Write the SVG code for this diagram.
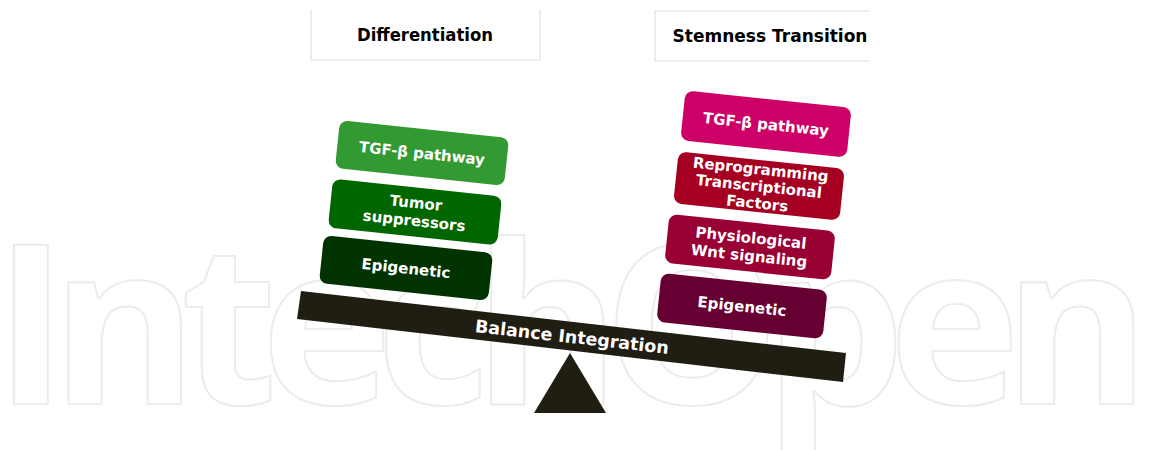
<svg xmlns="http://www.w3.org/2000/svg" width="1150" height="450" viewBox="0 0 1150 450">
<style>
.wm{font-family:"Open Sans","Noto Sans",sans-serif;font-weight:700;font-size:223px;fill:none;stroke:#ececec;stroke-width:2}
.hdr{fill:none;stroke:#e0e0e0;stroke-width:1.2}
.ht{font-family:"DejaVu Sans","Liberation Sans",sans-serif;font-weight:bold;font-size:17px;fill:#000;text-anchor:middle}
.bt{font-family:"DejaVu Sans","Liberation Sans",sans-serif;font-weight:bold;font-size:15px;fill:#fff;text-anchor:middle}
.box{rx:8;ry:8}
.dark{fill:#201d13}
</style>
<rect width="1150" height="450" fill="#fff"/>
<text class="wm" x="-6" y="404" textLength="1156" lengthAdjust="spacing">IntechOpen</text>

<g id="hdr-diff">
<path class="hdr" d="M311,10 V60 H540 V10"/>
<text class="ht" x="425" y="41" textLength="136" lengthAdjust="spacingAndGlyphs">Differentiation</text>
</g>
<g id="hdr-stem">
<path class="hdr" d="M870,11 H655 V61 H870"/>
<text class="ht" x="770" y="42" textLength="195" lengthAdjust="spacingAndGlyphs">Stemness Transition</text>
</g>

<g id="g-tgf" transform="translate(422,153) rotate(6)">
<rect class="box" x="-85" y="-24" width="170" height="48" fill="#339933"/>
<text class="bt" x="0" y="5.5">TGF-β pathway</text>
</g>
<g id="g-tumor" transform="translate(415,212) rotate(6)">
<rect class="box" x="-85" y="-24.5" width="170" height="49" fill="#006600"/>
<text class="bt" x="0" y="-4">Tumor</text>
<text class="bt" x="0" y="14">suppressors</text>
</g>
<g id="g-epi" transform="translate(406,268) rotate(6)">
<rect class="box" x="-85" y="-24" width="170" height="48" fill="#003300"/>
<text class="bt" x="0" y="5.5">Epigenetic</text>
</g>

<g id="r-tgf" transform="translate(766,124) rotate(6)">
<rect class="box" x="-83.5" y="-25" width="167" height="50" fill="#cc0066"/>
<text class="bt" x="0" y="5.5">TGF-β pathway</text>
</g>
<g id="r-repro" transform="translate(759,186) rotate(6)">
<rect class="box" x="-83.5" y="-26" width="167" height="52" fill="#a50021"/>
<text class="bt" x="0" y="-11.5">Reprogramming</text>
<text class="bt" x="0" y="5.5">Transcriptional</text>
<text class="bt" x="0" y="22.5">Factors</text>
</g>
<g id="r-wnt" transform="translate(750,247) rotate(6)">
<rect class="box" x="-83.5" y="-24.5" width="167" height="49" fill="#990033"/>
<text class="bt" x="0" y="-4">Physiological</text>
<text class="bt" x="0" y="14">Wnt signaling</text>
</g>
<g id="r-epi" transform="translate(742,306) rotate(6)">
<rect class="box" x="-83.5" y="-24.5" width="167" height="49" fill="#660033"/>
<text class="bt" x="0" y="5.5">Epigenetic</text>
</g>

<g id="balance">
<polygon class="dark" points="301,291 846,353 843,382 297,319"/>
<text transform="translate(572,337) rotate(6.5)" x="0" y="6" style="font-family:'DejaVu Sans','Liberation Sans',sans-serif;font-weight:bold;font-size:17.5px;fill:#fff;text-anchor:middle">Balance Integration</text>
</g>
<g id="fulcrum">
<polygon class="dark" points="570,353 606,413 534,413"/>
</g>
<g id="connectors"></g>
</svg>
